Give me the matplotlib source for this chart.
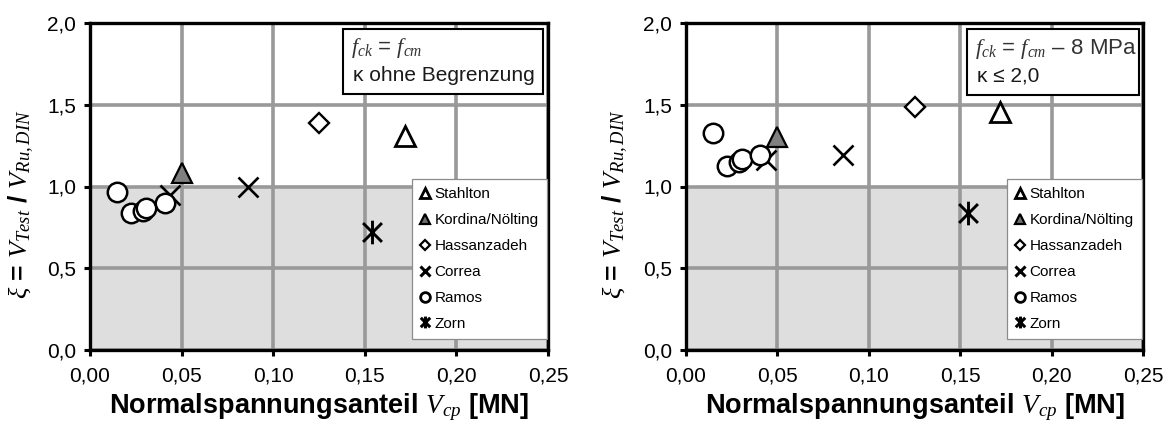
import matplotlib
matplotlib.use("Agg")
import matplotlib.pyplot as plt
from matplotlib.lines import Line2D
from matplotlib.path import Path
from matplotlib.patches import Rectangle

plt.rcParams['font.family'] = ['Liberation Sans', 'DejaVu Sans']
plt.rcParams['mathtext.fontset'] = 'custom'
plt.rcParams['mathtext.rm'] = 'Liberation Serif'
plt.rcParams['mathtext.it'] = 'Liberation Serif:italic'
plt.rcParams['mathtext.bf'] = 'Liberation Serif:bold'

# Normal-force share V_cp [MN] of the test beams (same for both evaluations)
x_stahlton = [0.172]
x_kordina = [0.050]
x_hassanzadeh = [0.125]
x_correa = [0.0435, 0.086]
x_ramos = [0.0146, 0.0226, 0.0289, 0.0306, 0.0407]
x_zorn = [0.154]

# xi = V_Test / V_Ru,DIN  with f_ck = f_cm, kappa without limit
xi1_stahlton = [1.31]
xi1_kordina = [1.08]
xi1_hassanzadeh = [1.39]
xi1_correa = [0.95, 1.00]
xi1_ramos = [0.968, 0.840, 0.852, 0.866, 0.901]
xi1_zorn = [0.72]

# xi = V_Test / V_Ru,DIN  with f_ck = f_cm - 8 MPa, kappa <= 2.0
xi2_stahlton = [1.455]
xi2_kordina = [1.305]
xi2_hassanzadeh = [1.488]
xi2_correa = [1.162, 1.193]
xi2_ramos = [1.325, 1.125, 1.150, 1.170, 1.193]
xi2_zorn = [0.84]

series_names = ["Stahlton", "Kordina/Nölting", "Hassanzadeh", "Correa", "Ramos", "Zorn"]
x_ticks = [0.00, 0.05, 0.10, 0.15, 0.20, 0.25]
y_ticks = [0.0, 0.5, 1.0, 1.5, 2.0]

panel_notes = [
    ["$f_{ck}$ = $f_{cm}$", "κ ohne Begrenzung"],
    ["$f_{ck}$ = $f_{cm}$ – 8 MPa", "κ ≤ 2,0"],
]

# six-armed star used for the Zorn beams
star = Path([(0, -1), (0, 1), (-0.8, -0.8), (0.8, 0.8), (-0.8, 0.8), (0.8, -0.8)],
            [Path.MOVETO, Path.LINETO] * 3)

styles = {
    "Stahlton": dict(marker="^", ms=14.5, mfc="white", mec="black", mew=2.0),
    "Kordina/Nölting": dict(marker="^", ms=14.5, mfc="#808080", mec="black", mew=1.6),
    "Hassanzadeh": dict(marker="D", ms=10.5, mfc="white", mec="black", mew=1.7),
    "Correa": dict(marker="x", ms=14.5, mfc="none", mec="black", mew=1.9),
    "Ramos": dict(marker="o", ms=14, mfc="white", mec="black", mew=1.8),
    "Zorn": dict(marker=star, ms=17, mfc="none", mec="black", mew=2.1),
}
legend_styles = {
    "Stahlton": dict(marker="^", ms=7.5, mfc="white", mec="black", mew=2.0),
    "Kordina/Nölting": dict(marker="^", ms=7.5, mfc="#707070", mec="black", mew=1.6),
    "Hassanzadeh": dict(marker="D", ms=5.5, mfc="white", mec="black", mew=1.6),
    "Correa": dict(marker="x", ms=6.5, mfc="none", mec="black", mew=2.2),
    "Ramos": dict(marker="o", ms=7.0, mfc="white", mec="black", mew=2.0),
    "Zorn": dict(marker=star, ms=8.5, mfc="none", mec="black", mew=2.2),
}

fig = plt.figure(figsize=(11.72, 4.24), dpi=100)
W, H = 1172, 424
ax_left = fig.add_axes([90 / W, (H - 350) / H, 458 / W, 327 / H])
ax_right = fig.add_axes([686 / W, (H - 350) / H, 457 / W, 327 / H])

panels = [
    (ax_left, [xi1_stahlton, xi1_kordina, xi1_hassanzadeh, xi1_correa, xi1_ramos, xi1_zorn],
     (0.552, 0.783, 0.437, 0.199), -0.118),
    (ax_right, [xi2_stahlton, xi2_kordina, xi2_hassanzadeh, xi2_correa, xi2_ramos, xi2_zorn],
     (0.615, 0.780, 0.376, 0.202), -0.122),
]
xs = [x_stahlton, x_kordina, x_hassanzadeh, x_correa, x_ramos, x_zorn]
draw_order = ["Correa", "Ramos", "Zorn", "Hassanzadeh", "Kordina/Nölting", "Stahlton"]

for (ax, ys, box, ylab_x), notes in zip(panels, panel_notes):
    ax.set_xlim(0, 0.25)
    ax.set_ylim(0, 2.0)
    ax.axhspan(0, 1.0, color="#dedede", zorder=0.2, lw=0)
    ax.set_axisbelow(True)
    ax.set_xticks(x_ticks)
    ax.set_yticks(y_ticks)
    ax.set_xticklabels([f"{v:.2f}".replace(".", ",") for v in x_ticks])
    ax.set_yticklabels([f"{v:.1f}".replace(".", ",") for v in y_ticks])
    ax.grid(True, color="#999999", lw=2.6)
    ax.tick_params(direction="out", length=4, width=2.2, labelsize=15, pad=6, colors="black")
    ax.tick_params(axis="x", pad=8)
    for sp in ax.spines.values():
        sp.set_linewidth(2.4)
        sp.set_color("black")

    for name in draw_order:
        i = series_names.index(name)
        ax.plot(xs[i], ys[i], ls="none", zorder=4, **styles[name])

    handles = [Line2D([], [], ls="none", **legend_styles[n]) for n in series_names]
    leg = ax.legend(handles, series_names, loc="lower right", bbox_to_anchor=(0.998, 0.033),
                    borderaxespad=0, fontsize=11, handlelength=0.7, handletextpad=0.25,
                    labelspacing=0.78, borderpad=0.55, fancybox=False, framealpha=1,
                    edgecolor="#8c8c8c")
    leg.get_frame().set_linewidth(0.9)
    leg.set_zorder(6)

    bx, by, bw, bh = box
    ax.add_patch(Rectangle((bx, by), bw, bh, transform=ax.transAxes, facecolor="white",
                           edgecolor="black", lw=1.5, zorder=6))
    ax.text(bx + 0.018, by + bh * 0.70, notes[0], transform=ax.transAxes, fontsize=16,
            color="#333333", va="center", ha="left", zorder=7)
    ax.text(bx + 0.022, by + bh * 0.28, notes[1], transform=ax.transAxes, fontsize=15,
            color="#1a1a1a", va="center", ha="left", zorder=7)

    ax.set_xlabel(r"Normalspannungsanteil $V_{cp}$ [MN]", fontsize=19.5, fontweight="bold")
    ax.xaxis.set_label_coords(0.5, -0.125)
    ax.set_ylabel(r"$\xi$ = $V_{Test}$ / $V_{Ru,DIN}$", fontsize=19, fontweight="bold")
    ax.yaxis.set_label_coords(ylab_x, 0.446)

fig.savefig("out.png", dpi=100)
